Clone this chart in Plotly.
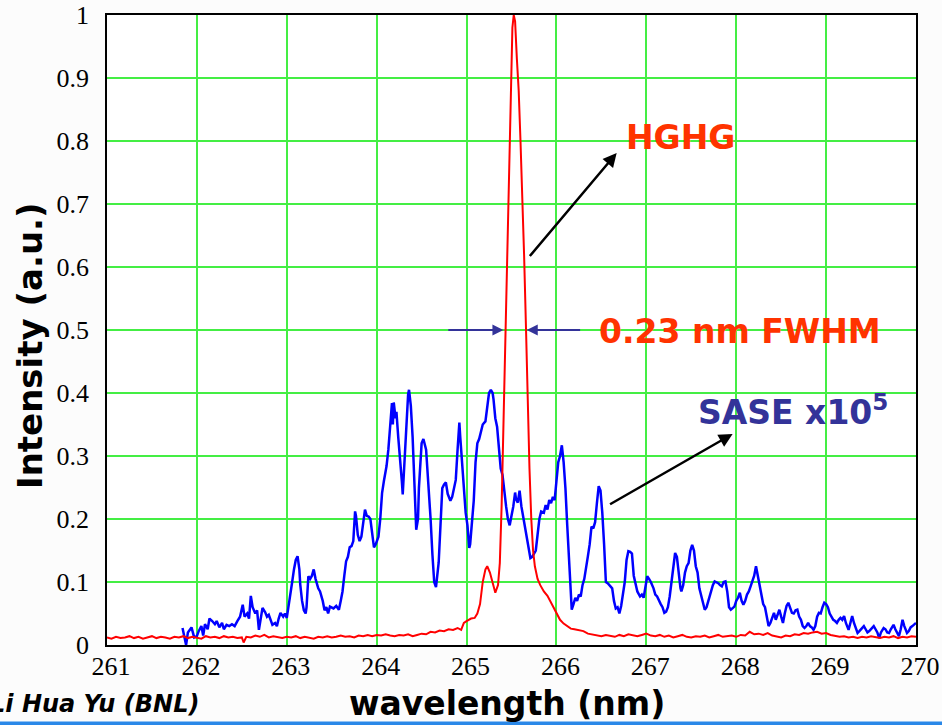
import plotly.graph_objects as go

# ---------------- data ----------------
sase_wl = [261.84,261.86,261.88,261.90,261.94,261.97,262.00,262.02,262.05,262.07,262.09,262.12,262.14,262.17,262.20,262.22,262.25,262.28,262.30,262.33,
262.36,262.39,262.42,262.45,262.48,262.51,262.53,262.56,262.58,262.60,262.62,262.65,262.67,262.69,262.71,262.73,262.76,262.78,262.80,262.82,
262.84,262.87,262.89,262.91,262.93,262.96,262.98,263.00,263.02,263.04,263.06,263.08,263.10,263.12,263.14,263.15,263.17,263.19,263.21,263.22,
263.24,263.26,263.28,263.30,263.32,263.35,263.37,263.40,263.42,263.44,263.46,263.48,263.50,263.52,263.55,263.58,263.60,263.62,263.64,263.66,
263.68,263.70,263.72,263.74,263.76,263.77,263.79,263.81,263.83,263.85,263.87,263.89,263.91,263.93,263.95,263.97,263.99,264.02,264.04,264.06,
264.08,264.11,264.13,264.15,264.17,264.18,264.19,264.21,264.22,264.24,264.26,264.28,264.29,264.31,264.33,264.35,264.36,264.38,264.40,264.42,
264.44,264.46,264.47,264.50,264.52,264.55,264.58,264.60,264.62,264.64,264.66,264.69,264.71,264.73,264.75,264.77,264.79,264.82,264.84,264.86,
264.88,264.90,264.92,264.93,264.95,264.97,264.99,265.01,265.03,265.04,265.06,265.08,265.10,265.12,265.14,265.16,265.18,265.21,265.23,265.25,
265.27,265.29,265.30,265.32,265.34,265.36,265.38,265.40,265.42,265.44,265.46,265.48,265.50,265.52,265.54,265.55,265.57,265.59,265.61,265.63,
265.65,265.67,265.69,265.71,265.73,265.75,265.77,265.79,265.81,265.83,265.86,265.88,265.90,265.92,265.94,265.96,265.98,266.00,266.02,266.04,
266.06,266.08,266.10,266.12,266.14,266.16,266.17,266.19,266.21,266.23,266.25,266.27,266.29,266.31,266.33,266.35,266.37,266.39,266.41,266.43,
266.45,266.47,266.49,266.51,266.53,266.55,266.57,266.59,266.62,266.64,266.66,266.68,266.70,266.72,266.74,266.76,266.78,266.80,266.82,266.84,
266.86,266.88,266.90,266.93,266.95,266.97,266.99,267.01,267.03,267.05,267.08,267.10,267.12,267.14,267.16,267.18,267.20,267.22,267.24,267.26,
267.28,267.30,267.32,267.34,267.36,267.38,267.39,267.41,267.43,267.45,267.47,267.49,267.51,267.53,267.55,267.57,267.59,267.61,267.63,267.65,
267.67,267.70,267.72,267.74,267.76,267.78,267.80,267.82,267.84,267.86,267.88,267.90,267.92,267.94,267.96,267.98,268.00,268.02,268.04,268.06,
268.08,268.10,268.12,268.14,268.16,268.18,268.20,268.22,268.24,268.26,268.28,268.30,268.32,268.34,268.36,268.38,268.40,268.42,268.44,268.46,
268.48,268.50,268.52,268.54,268.56,268.58,268.60,268.62,268.64,268.66,268.68,268.70,268.72,268.74,268.76,268.78,268.80,268.82,268.84,268.86,
268.88,268.90,268.92,268.94,268.96,268.98,269.00,269.02,269.04,269.06,269.08,269.10,269.12,269.14,269.16,269.18,269.20,269.22,269.25,269.27,
269.29,269.31,269.33,269.35,269.37,269.40,269.42,269.44,269.46,269.48,269.50,269.53,269.55,269.57,269.59,269.61,269.64,269.66,269.68,269.70,
269.72,269.75,269.77,269.79,269.81,269.83,269.85,269.87,269.90,269.92,269.94,269.96,269.98,270.00]

sase_int = [0.027,0.011,0.0,0.02,0.028,0.012,0.014,0.022,0.03,0.015,0.033,0.025,0.042,0.038,0.033,0.038,0.028,0.035,0.025,0.032,
0.03,0.033,0.03,0.038,0.045,0.064,0.045,0.05,0.042,0.078,0.06,0.05,0.055,0.024,0.045,0.059,0.052,0.045,0.048,0.038,
0.032,0.035,0.03,0.042,0.051,0.045,0.05,0.043,0.06,0.083,0.1,0.12,0.135,0.141,0.12,0.096,0.07,0.055,0.05,0.06,
0.109,0.105,0.11,0.12,0.105,0.09,0.085,0.07,0.055,0.06,0.05,0.061,0.06,0.058,0.062,0.056,0.07,0.085,0.11,0.133,
0.14,0.155,0.157,0.165,0.212,0.205,0.175,0.165,0.172,0.195,0.215,0.205,0.204,0.2,0.175,0.155,0.16,0.172,0.2,0.241,
0.26,0.284,0.31,0.342,0.384,0.35,0.385,0.36,0.37,0.33,0.3,0.26,0.239,0.3,0.35,0.398,0.405,0.38,0.33,0.26,
0.183,0.2,0.249,0.32,0.327,0.31,0.249,0.2,0.144,0.1,0.092,0.131,0.19,0.249,0.255,0.258,0.24,0.229,0.235,0.25,
0.262,0.31,0.353,0.33,0.294,0.25,0.21,0.19,0.154,0.16,0.19,0.229,0.29,0.32,0.327,0.34,0.35,0.355,0.38,0.4,
0.405,0.4,0.39,0.36,0.346,0.31,0.28,0.27,0.24,0.22,0.2,0.19,0.205,0.22,0.242,0.232,0.226,0.245,0.22,0.203,
0.19,0.17,0.155,0.138,0.14,0.146,0.15,0.175,0.2,0.212,0.21,0.222,0.215,0.23,0.225,0.235,0.23,0.26,0.29,0.3,
0.317,0.29,0.249,0.19,0.14,0.09,0.056,0.065,0.075,0.07,0.08,0.077,0.095,0.105,0.12,0.141,0.16,0.188,0.185,0.195,
0.225,0.252,0.245,0.21,0.16,0.1,0.098,0.095,0.09,0.07,0.058,0.06,0.05,0.062,0.079,0.1,0.135,0.149,0.148,0.145,
0.11,0.098,0.085,0.077,0.08,0.075,0.09,0.109,0.105,0.1,0.09,0.08,0.077,0.07,0.065,0.06,0.051,0.053,0.06,0.077,
0.1,0.13,0.146,0.14,0.11,0.09,0.085,0.095,0.115,0.125,0.13,0.15,0.159,0.15,0.125,0.115,0.09,0.077,0.065,0.056,
0.06,0.077,0.085,0.095,0.101,0.1,0.098,0.095,0.093,0.1,0.101,0.085,0.06,0.056,0.058,0.061,0.07,0.075,0.083,0.07,
0.064,0.07,0.08,0.085,0.093,0.1,0.11,0.125,0.11,0.098,0.08,0.065,0.06,0.045,0.03,0.035,0.045,0.051,0.04,0.05,
0.056,0.045,0.035,0.05,0.062,0.067,0.06,0.051,0.05,0.055,0.056,0.045,0.04,0.03,0.027,0.03,0.035,0.03,0.028,0.024,
0.03,0.045,0.051,0.05,0.06,0.067,0.065,0.06,0.05,0.045,0.04,0.038,0.035,0.04,0.043,0.04,0.046,0.035,0.024,0.035,
0.046,0.035,0.025,0.019,0.022,0.027,0.03,0.025,0.02,0.022,0.025,0.03,0.025,0.02,0.011,0.02,0.027,0.025,0.02,0.019,
0.025,0.032,0.025,0.018,0.014,0.025,0.04,0.03,0.019,0.022,0.028,0.03,0.032,0.035]

hghg_wl = [261.00,261.05,261.10,261.15,261.20,261.25,261.30,261.35,261.40,261.45,261.50,261.55,261.60,261.65,261.70,261.75,261.80,261.85,261.90,261.95,
262.00,262.05,262.10,262.15,262.20,262.25,262.30,262.35,262.40,262.45,262.50,262.52,262.55,262.60,262.65,262.70,262.75,262.80,262.85,262.90,
262.95,263.00,263.05,263.10,263.15,263.20,263.25,263.30,263.35,263.40,263.45,263.50,263.55,263.60,263.65,263.70,263.75,263.80,263.85,263.90,
263.95,264.00,264.05,264.10,264.15,264.20,264.25,264.30,264.35,264.40,264.45,264.50,264.55,264.60,264.65,264.70,264.75,264.80,264.85,264.90,
264.94,264.97,265.00,265.05,265.09,265.12,265.15,265.18,265.21,265.23,265.26,265.29,265.32,265.35,265.37,265.39,265.41,265.43,265.45,265.47,
265.49,265.51,265.525,265.54,265.56,265.58,265.60,265.62,265.64,265.66,265.68,265.70,265.72,265.74,265.76,265.79,265.82,265.86,265.90,265.95,
266.00,266.04,266.08,266.12,266.16,266.20,266.25,266.30,266.35,266.40,266.45,266.50,266.55,266.60,266.65,266.70,266.75,266.80,266.85,266.90,
266.95,267.00,267.05,267.10,267.15,267.20,267.25,267.30,267.35,267.40,267.45,267.50,267.55,267.60,267.65,267.70,267.75,267.80,267.85,267.90,
267.95,268.00,268.05,268.10,268.15,268.20,268.25,268.30,268.35,268.40,268.45,268.50,268.55,268.60,268.65,268.70,268.75,268.80,268.85,268.90,
268.95,269.00,269.05,269.10,269.15,269.20,269.25,269.30,269.35,269.40,269.45,269.50,269.55,269.60,269.65,269.70,269.75,269.80,269.85,269.90,
269.95,270.00]

hghg_int = [0.012,0.010,0.013,0.011,0.012,0.014,0.011,0.013,0.010,0.012,0.014,0.011,0.013,0.012,0.010,0.013,0.012,0.014,0.011,0.013,
0.012,0.010,0.014,0.012,0.013,0.011,0.014,0.012,0.013,0.011,0.012,0.004,0.013,0.012,0.015,0.013,0.016,0.012,0.014,0.013,
0.011,0.013,0.012,0.014,0.011,0.013,0.012,0.010,0.013,0.012,0.014,0.012,0.013,0.015,0.013,0.014,0.012,0.015,0.014,0.016,
0.014,0.016,0.015,0.017,0.015,0.014,0.016,0.015,0.017,0.014,0.016,0.018,0.017,0.021,0.020,0.023,0.022,0.025,0.024,0.027,
0.024,0.035,0.038,0.042,0.043,0.050,0.065,0.100,0.120,0.125,0.115,0.100,0.083,0.095,0.130,0.220,0.350,0.470,0.600,0.770,
0.900,0.980,1.000,0.990,0.930,0.880,0.800,0.720,0.620,0.510,0.380,0.280,0.200,0.150,0.125,0.105,0.095,0.085,0.078,0.065,
0.052,0.040,0.034,0.030,0.026,0.025,0.024,0.022,0.018,0.017,0.016,0.014,0.016,0.015,0.013,0.016,0.014,0.017,0.015,0.014,
0.016,0.018,0.015,0.014,0.016,0.013,0.015,0.012,0.014,0.016,0.013,0.012,0.014,0.013,0.015,0.012,0.014,0.016,0.013,0.014,
0.015,0.013,0.016,0.015,0.021,0.017,0.018,0.016,0.019,0.015,0.014,0.012,0.015,0.014,0.017,0.016,0.019,0.018,0.020,0.021,
0.018,0.019,0.016,0.015,0.013,0.014,0.012,0.013,0.011,0.013,0.012,0.014,0.012,0.011,0.013,0.012,0.014,0.011,0.013,0.012,
0.014,0.013]

x_ticks = [261, 262, 263, 264, 265, 266, 267, 268, 269, 270]
y_ticks = [0, 0.1, 0.2, 0.3, 0.4, 0.5, 0.6, 0.7, 0.8, 0.9, 1]
y_tick_text = ["0", "0.1", "0.2", "0.3", "0.4", "0.5", "0.6", "0.7", "0.8", "0.9", "1"]

# ---------------- figure ----------------
W, H = 942, 725
L, R, T, B = 107, 26, 15, 80
PW, PH = W - L - R, H - T - B

def px_x(p):
    return (p - L) / PW

def px_y(p):
    return (H - B - p) / PH

BOLD = "DejaVu Sans"
SERIF = "Liberation Serif, Times New Roman, serif"
ORANGE = "#ff3300"
NAVY = "#333399"

fig = go.Figure()
fig.add_trace(go.Scatter(x=sase_wl, y=sase_int, mode="lines",
                         line=dict(color="#0000ff", width=2.5), name="SASE"))
fig.add_trace(go.Scatter(x=hghg_wl, y=hghg_int, mode="lines",
                         line=dict(color="#ff0000", width=2), name="HGHG"))

annotations = [
    dict(x=266.67, y=0.781, ax=265.69, ay=0.615, xref="x", yref="y", axref="x", ayref="y",
         text="", showarrow=True, arrowhead=2, arrowsize=1.1, arrowwidth=2.5, arrowcolor="black"),
    dict(x=267.38, y=0.805, xref="x", yref="y", text="HGHG", showarrow=False,
         font=dict(family=BOLD, size=33, color=ORANGE, weight="bold")),
    dict(x=265.41, y=0.5, ax=264.78, ay=0.5, xref="x", yref="y", axref="x", ayref="y",
         text="", showarrow=True, arrowhead=2, arrowsize=1.1, arrowwidth=2, arrowcolor=NAVY),
    dict(x=265.67, y=0.5, ax=266.28, ay=0.5, xref="x", yref="y", axref="x", ayref="y",
         text="", showarrow=True, arrowhead=2, arrowsize=1.1, arrowwidth=2, arrowcolor=NAVY),
    dict(x=268.04, y=0.497, xref="x", yref="y", text="0.23 nm FWHM", showarrow=False,
         font=dict(family=BOLD, size=33, color=ORANGE, weight="bold")),
    dict(x=267.96, y=0.335, ax=266.58, ay=0.222, xref="x", yref="y", axref="x", ayref="y",
         text="", showarrow=True, arrowhead=2, arrowsize=1.1, arrowwidth=2.5, arrowcolor="black"),
    dict(x=268.63, y=0.372, xref="x", yref="y", text="SASE x10<sup>5</sup>", showarrow=False,
         font=dict(family=BOLD, size=33, color=NAVY, weight="bold")),
    dict(x=px_x(507), y=px_y(703), xref="paper", yref="paper", text="wavelength (nm)",
         showarrow=False, xanchor="center", yanchor="middle",
         font=dict(family=BOLD, size=33, color="black", weight="bold")),
    dict(x=px_x(30), y=px_y(346), xref="paper", yref="paper", text="Intensity (a.u.)",
         showarrow=False, textangle=-90, xanchor="center", yanchor="middle",
         font=dict(family=BOLD, size=34, color="black", weight="bold")),
    dict(x=px_x(201), y=px_y(704), xref="paper", yref="paper", text="Li Hua Yu (BNL)",
         showarrow=False, xanchor="right", yanchor="middle",
         font=dict(family=BOLD, size=24, color="black", weight="bold", style="italic")),
]

shapes = [
    dict(type="rect", xref="paper", yref="paper",
         x0=px_x(0), x1=px_x(W), y0=px_y(725), y1=px_y(721.5),
         fillcolor="#2a88e8", line=dict(width=0), layer="above"),
]

fig.update_layout(
    width=W, height=H, autosize=False,
    margin=dict(l=L, r=R, t=T, b=B, pad=0, autoexpand=False),
    paper_bgcolor="#fcfcfc", plot_bgcolor="white",
    showlegend=False, hovermode=False,
    annotations=annotations, shapes=shapes,
    xaxis=dict(range=[261, 270], tickvals=x_ticks, ticktext=[str(v) for v in x_ticks],
               showgrid=True, gridcolor="#44ee44", gridwidth=2, automargin=False,
               showline=True, linecolor="black", linewidth=1.5, mirror=True,
               ticks="", ticklabelstandoff=-3, ticklabelshift=4, zeroline=False,
               tickfont=dict(family=SERIF, size=26, color="black")),
    yaxis=dict(range=[0, 1], tickvals=y_ticks, ticktext=y_tick_text,
               showgrid=True, gridcolor="#44ee44", gridwidth=2, automargin=False,
               showline=True, linecolor="black", linewidth=1.5, mirror=True,
               ticks="", ticklabelstandoff=11, zeroline=False,
               tickfont=dict(family=SERIF, size=26, color="black")),
)

fig.write_html("out.html", config={"displayModeBar": False},
               post_script="document.body.style.margin='0px';document.body.style.padding='0px';")
